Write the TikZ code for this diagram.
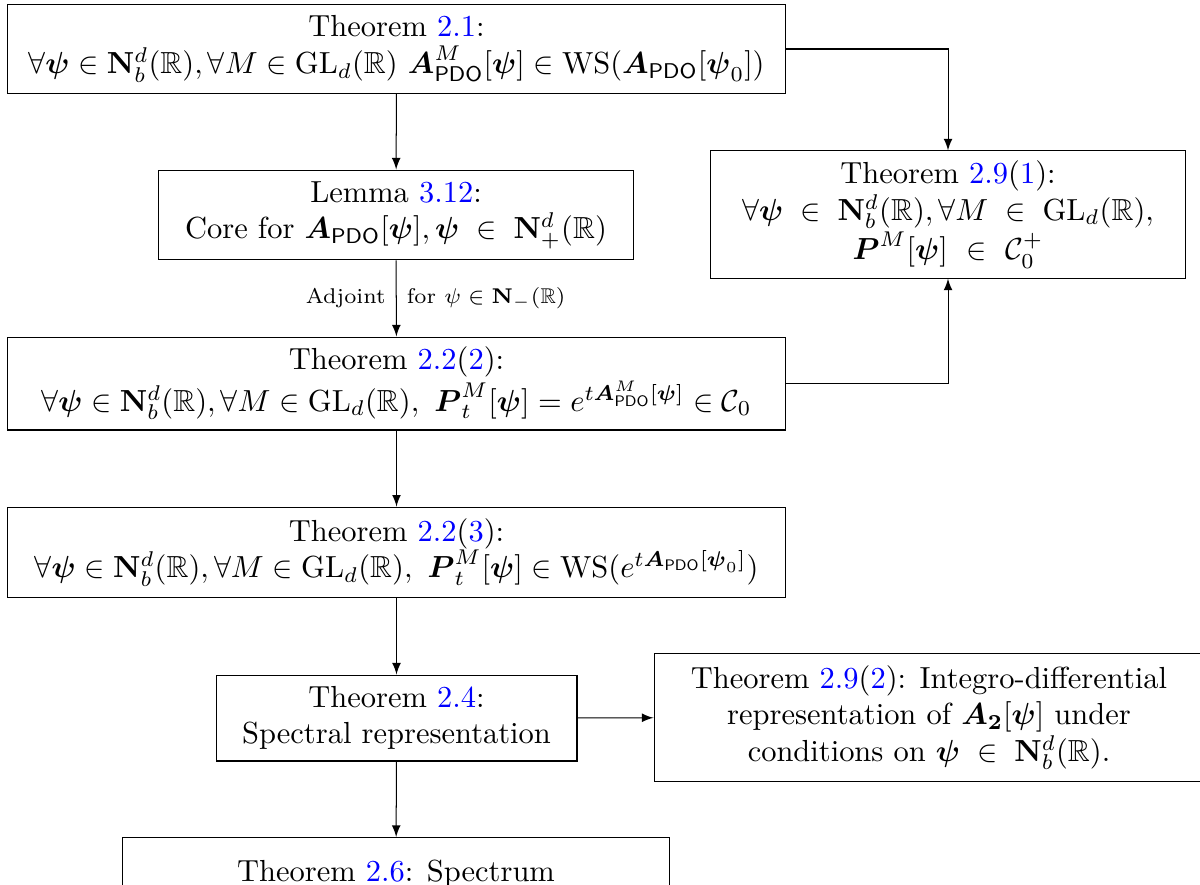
\documentclass[tikz,border=0pt]{standalone}
\usepackage{amsmath,amssymb}
\usepackage{tikz}
\usetikzlibrary{arrows}
\def\bpsi{\boldsymbol{\psi}}
\def\Apdo{\boldsymbol{A}_{\mathsf{PDO}}}
\def\Nbd{\mathbf{N}^d_b(\mathbb{R})}
\def\GLd{\mathrm{GL}_d(\mathbb{R})}
\def\blueref#1{\textcolor{blue}{#1}}
\tikzset{thmbox/.style={draw, align=center, inner sep=0pt}}

\begin{document}
\begin{tikzpicture}[x=0.328pt, y=-0.328pt, >=latex, line width=0.33pt]
			%%%%% START %%%%%
			
			\useasboundingbox (0, 0) rectangle (1200, 884);
			
			\node[thmbox, minimum width=254.9pt, minimum height=28.9pt] (t21) at (396.5, 49)
			{Theorem \blueref{2.1}:\\ $\forall\bpsi\in\Nbd,\forall M\in\GLd\ \boldsymbol{A}^M_{\mathsf{PDO}}[\bpsi]\in\mathrm{WS}(\Apdo[\bpsi_0])$};
			
			\node[thmbox, minimum width=156.1pt, minimum height=29.5pt] (lem) at (396, 215)
			{Lemma \blueref{3.12}:\\ Core for $\Apdo[\bpsi],\bpsi\;\in\;\mathbf{N}^d_+(\mathbb{R})$};
			
			\node[thmbox, minimum width=254.9pt, minimum height=30.5pt] (t222) at (396.5, 383.5)
			{Theorem \blueref{2.2}(\blueref{2}):\\ $\forall\bpsi\in\Nbd,\forall M\in\GLd,\ \boldsymbol{P}^M_t[\bpsi]=e^{t\boldsymbol{A}^M_{\mathsf{PDO}}[\bpsi]}\in\mathcal{C}_0$};
			
			\node[thmbox, minimum width=254.9pt, minimum height=29.8pt] (t223) at (396.5, 552.5)
			{Theorem \blueref{2.2}(\blueref{3}):\\ $\forall\bpsi\in\Nbd,\forall M\in\GLd,\ \boldsymbol{P}^M_t[\bpsi]\in\mathrm{WS}(e^{t\Apdo[\bpsi_0]})$};
			
			\node[thmbox, minimum width=118.4pt, minimum height=28.2pt] (t24) at (396.5, 718)
			{Theorem \blueref{2.4}:\\ Spectral representation};
			
			\node[draw, inner sep=0pt, anchor=north, minimum width=179.7pt, text height=14.4pt, text depth=20pt] (t26) at (396, 837)
			{Theorem \blueref{2.6}: Spectrum};
			
			\node[thmbox, minimum width=155.5pt, minimum height=41.7pt] (t291) at (948, 214.5)
			{Theorem \blueref{2.9}(\blueref{1}):\\ $\forall\bpsi\;\in\;\Nbd,\forall M\;\in\;\GLd,$\\ $\boldsymbol{P}^M[\bpsi]\ \in\ \mathcal{C}_0^+$};
			
			\node[thmbox, minimum width=180.4pt, minimum height=41.7pt] (t292) at (929, 717.5)
			{Theorem \blueref{2.9}(\blueref{2}): Integro-differential\\ representation of $\boldsymbol{A}_{\mathbf{2}}[\bpsi]$ under\\ conditions on $\bpsi\;\in\;\Nbd$.};
			
			\draw[->] (t21) -- (lem);
			\draw[->] (lem) -- (t222)
				node[midway, left, font=\scriptsize] (adj) {Adjoint}
				node[midway, right, font=\scriptsize] (adjfor) {for $\psi\in\mathbf{N}_-(\mathbb{R})$};
			\draw[->] (t222) -- (t223);
			\draw[->] (t223) -- (t24);
			\draw[->] (t24) -- (t26);
			\draw[->] (t24) -- (t292);
			\draw[->] (t21.east) -| (t291.north);
			\draw[->] (t222.east) -| (t291.south);
			
			%%%%% END %%%%%
		\end{tikzpicture}
\end{document}
